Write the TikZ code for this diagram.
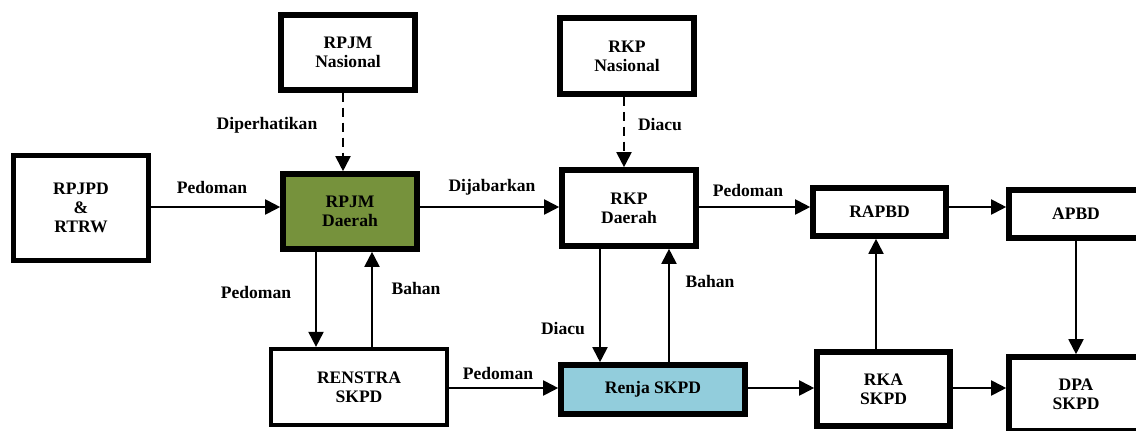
\documentclass[tikz,border=0pt]{standalone}
\usepackage{fontspec}
\setmainfont{Liberation Serif}
\usepackage{xcolor}
\usepackage{tikz}
\usetikzlibrary{shapes, arrows.meta, positioning}
\usetikzlibrary{calc}
\definecolor{olivefill}{RGB}{118,146,60}
\definecolor{skyfill}{RGB}{146,205,220}

\begin{document}
\begin{tikzpicture}
  [
    x=0.02cm, y=-0.02cm,
    font=\fontsize{10}{11}\selectfont\bfseries,
    Box/.style={rectangle, draw=black, fill=white, line width=3.2pt, align=center, inner sep=0pt},
    Thin/.style={rectangle, draw=black, fill=white, line width=2.4pt, align=center, inner sep=0pt},
    Green/.style={Box, fill=olivefill},
    Blue/.style={Box, fill=skyfill},
    Tag/.style={inner sep=0pt, anchor=center},
    Arr/.style={-{Triangle[length=0.3cm, width=0.3cm]}, line width=1.1pt},
    Dash/.style={Arr, dash pattern=on 5.5pt off 3pt}
  ]
  \useasboundingbox (0,0) rectangle (1136,430);
  % Nodes
  \node[Box, minimum width=134*0.02cm, minimum height=75*0.02cm] (rpjmn) at (348, 52.5) {RPJM\\Nasional};
  \node[Box, minimum width=134*0.02cm, minimum height=76*0.02cm] (rkpn) at (627, 56) {RKP\\Nasional};
  \node[Box, minimum width=135*0.02cm, minimum height=105*0.02cm] (rpjpd) at (81, 208) {RPJPD\\\&\\RTRW};
  \node[Green, minimum width=134*0.02cm, minimum height=75*0.02cm] (rpjmd) at (350, 211.5) {RPJM\\Daerah};
  \node[Box, minimum width=134*0.02cm, minimum height=76*0.02cm] (rkpd) at (629, 208) {RKP\\Daerah};
  \node[Box, minimum width=133*0.02cm, minimum height=48*0.02cm] (rapbd) at (879.5, 212) {RAPBD};
  \node[Box, minimum width=134*0.02cm, minimum height=48*0.02cm] (apbd) at (1076, 214) {APBD};
  \node[Thin, minimum width=176*0.02cm, minimum height=76*0.02cm] (renstra) at (359, 387) {RENSTRA\\SKPD};
  \node[Blue, minimum width=184*0.02cm, minimum height=49*0.02cm] (renja) at (653, 389.5) {Renja SKPD};
  \node[Box, minimum width=133*0.02cm, minimum height=74*0.02cm] (rka) at (883.5, 389) {RKA\\SKPD};
  \node[Box, minimum width=134*0.02cm, minimum height=74*0.02cm] (dpa) at (1076, 394) {DPA\\SKPD};
  % Labels
  \node[Tag] (tdiperhatikan) at (267, 125) {Diperhatikan};
  \node[Tag] (tdiacua) at (660, 125) {Diacu};
  \node[Tag] (tpedomana) at (212, 187) {Pedoman};
  \node[Tag] (tdijabarkan) at (492, 187) {Dijabarkan};
  \node[Tag] (tpedomanb) at (748, 190) {Pedoman};
  \node[Tag] (tpedomanc) at (256, 292) {Pedoman};
  \node[Tag] (tbahana) at (416, 288) {Bahan};
  \node[Tag] (tdiacub) at (563, 329) {Diacu};
  \node[Tag] (tbahanb) at (710, 281) {Bahan};
  \node[Tag] (tpedomand) at (498, 373) {Pedoman};
  % Lines
  \path [Dash, draw] ($(rpjmn.south)+(-5,0)$) -- ($(rpjmd.north)+(-7,0)$);
  \path [Dash, draw] ($(rkpn.south)+(-3,0)$) -- ($(rkpd.north)+(-5,0)$);
  \path [Arr, draw] ($(rpjpd.east)+(0,-1)$) -- ($(rpjmd.west)+(0,-4.5)$);
  \path [Arr, draw] ($(rpjmd.east)+(0,-4.5)$) -- ($(rkpd.west)+(0,-1)$);
  \path [Arr, draw] ($(rkpd.east)+(0,-1)$) -- ($(rapbd.west)+(0,-5)$);
  \path [Arr, draw] ($(rapbd.east)+(0,-5)$) -- ($(apbd.west)+(0,-7)$);
  \path [Arr, draw] ($(rpjmd.south)+(-34,0)$) -- ($(renstra.north)+(-43,0)$);
  \path [Arr, draw] ($(renstra.north)+(13,0)$) -- ($(rpjmd.south)+(22,0)$);
  \path [Arr, draw] ($(rkpd.south)+(-29,0)$) -- ($(renja.north)+(-53,0)$);
  \path [Arr, draw] ($(renja.north)+(16,0)$) -- ($(rkpd.south)+(40,0)$);
  \path [Arr, draw] ($(renstra.east)+(0,1)$) -- ($(renja.west)+(0,-1.5)$);
  \path [Arr, draw] ($(renja.east)+(0,-1.5)$) -- ($(rka.west)+(0,-1)$);
  \path [Arr, draw] ($(rka.east)+(0,-1)$) -- ($(dpa.west)+(0,-6)$);
  \path [Arr, draw] ($(rka.north)+(-7.5,0)$) -- ($(rapbd.south)+(-3.5,0)$);
  \path [Arr, draw] (apbd.south) -- (dpa.north);
\end{tikzpicture}
\end{document}
